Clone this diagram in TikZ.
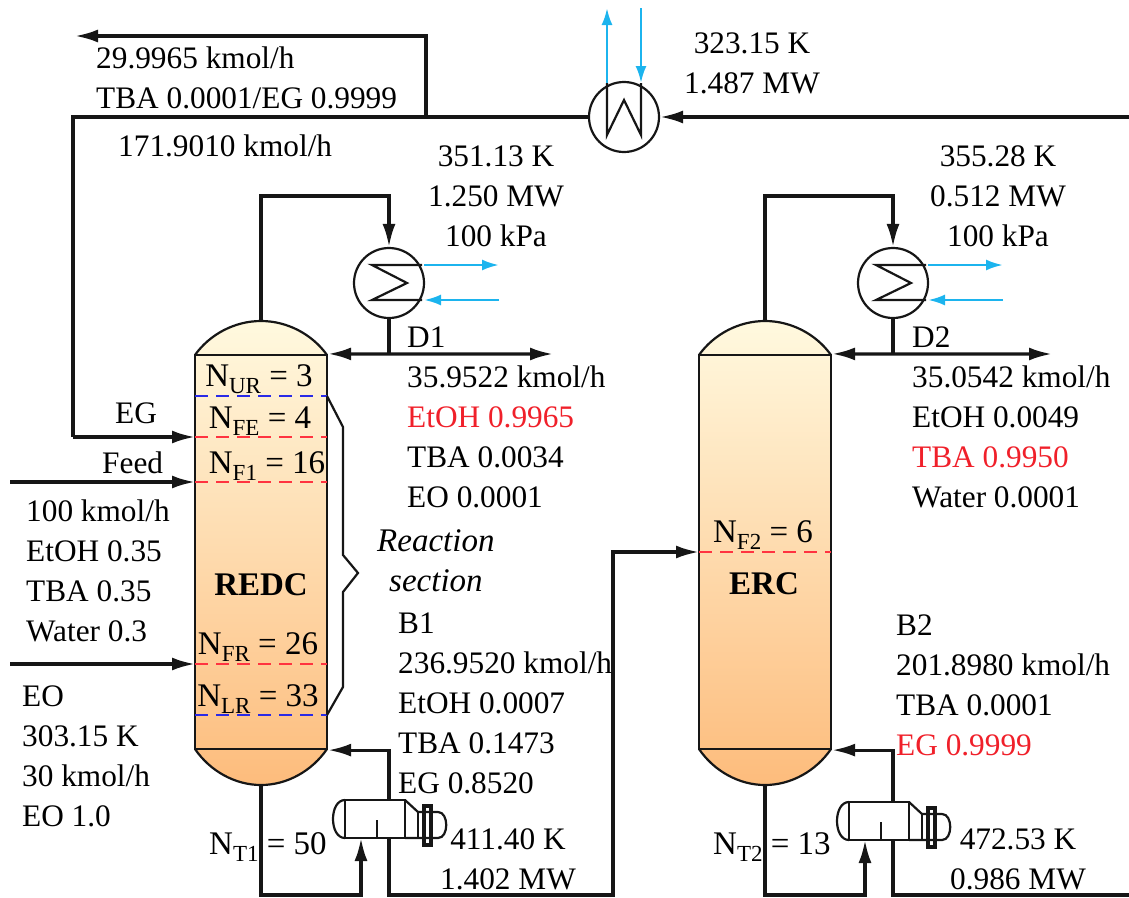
\documentclass[tikz,border=0pt]{standalone}
\usepackage{fontspec}
\setmainfont{Liberation Serif}
\usepackage{xcolor}
\usetikzlibrary{arrows.meta,positioning,calc}
\definecolor{ColTop}{HTML}{FFF9DF}
\definecolor{ColBot}{HTML}{FDBC7C}
\definecolor{CoolBlue}{HTML}{1CB4EE}
\definecolor{TrayRed}{HTML}{FF3340}
\definecolor{TrayBlue}{HTML}{2A2AE6}
\definecolor{SpecRed}{HTML}{F0202A}
\definecolor{PipeBlack}{HTML}{161616}
\newcommand{\Nsub}[1]{N\raisebox{-0.22em}{\fontsize{23}{23}\selectfont #1}}

\begin{document}
\begin{tikzpicture}[x=1pt,y=-1pt,>={Latex[length=23pt,width=13pt]},
    every node/.style={font=\fontsize{31.3}{40}\selectfont,inner sep=0pt},
    pipe/.style={draw=PipeBlack,line width=3.2pt},
    thinline/.style={draw=PipeBlack,line width=2.2pt},
    coolant/.style={draw=CoolBlue,line width=2.6pt,-{Latex[length=17pt,width=11pt]}},
    hx/.style={circle,draw=PipeBlack,line width=2.2pt,minimum size=70pt},
    colbody/.style={rectangle,draw=PipeBlack,line width=2.2pt,minimum width=132pt,minimum height=394pt},
    rebshell/.style={rectangle,draw=PipeBlack,line width=2.2pt,minimum width=60pt,minimum height=38pt},
    stage/.style={line width=2.2pt,dash pattern=on 13pt off 8pt},
    txt/.style={align=left,anchor=base west},
    ctxt/.style={align=center,anchor=base},
    biglab/.style={font=\fontsize{33}{40}\selectfont},
    boldlab/.style={font=\fontsize{33}{40}\selectfont\bfseries},
    itlab/.style={font=\fontsize{33}{40}\selectfont\itshape}]
    \useasboundingbox (0,0) rectangle (1129,897);

    % columns with condenser and reboiler
    \foreach \nm/\dx/\dy/\dend in {1/0/0/553,2/504/2/548} {
        \begin{scope}[xshift=\dx pt]
            \path[top color=ColTop,bottom color=ColBot]
                (195,355) .. controls (210,334) and (235,321) .. (261,321)
                .. controls (287,321) and (312,334) .. (327,355) -- (327,749)
                .. controls (312,771) and (287,785) .. (261,785)
                .. controls (235,785) and (210,771) .. (195,749) -- cycle;
            \draw[thinline]
                (195,355) .. controls (210,334) and (235,321) .. (261,321)
                .. controls (287,321) and (312,334) .. (327,355);
            \draw[thinline]
                (195,749) .. controls (210,771) and (235,785) .. (261,785)
                .. controls (287,785) and (312,771) .. (327,749);
            \node[colbody] (col\nm) at (261,552) {};
            \coordinate (top\nm) at (261,321);
            \coordinate (bot\nm) at (261,785);

            \node[hx] (cond\nm) at (389,283) {};
            \draw[thinline] (422,265) -- (372,265) -- (407,283) -- (372,300) -- (422,300);
            \coordinate (cwout\nm) at (499,265);
            \coordinate (cwin\nm) at (499,300);
            \coordinate (cwa\nm) at (424,265);
            \coordinate (cwb\nm) at (424,300);
            \draw[coolant] (cwa\nm) -- (cwout\nm);
            \draw[coolant] (cwin\nm) -- (cwb\nm);

            \draw[pipe,->] (top\nm) -- (261,196) -- (389,196) -- (cond\nm.north);
            \coordinate (dist\nm) at (389,354);
            \coordinate (dout\nm) at ({\dend},354);
            \draw[pipe] (cond\nm.south) -- (dist\nm);
            \draw[pipe,<->] (col\nm.north east) -- (dout\nm);

            \node[rebshell] (reb\nm) at (375,{819+\dy}) {};
            \begin{scope}[yshift=-\dy pt]
                \draw[thinline] (345,800) .. controls (329,800) and (329,838) .. (345,838);
                \draw[thinline] (405,800) -- (418,812) -- (438,812) .. controls (449,812) and (449,838) .. (438,838) -- (405,838);
                \draw[thinline] (418,812) -- (418,838);
                \draw[pipe] (424,806) rectangle (431,845);
                \draw[thinline] (377,820) -- (377,838);
                \coordinate (rtop\nm) at (389,800);
                \coordinate (rbot\nm) at (389,838);
                \coordinate (rin\nm) at (361,838);
            \end{scope}
            \draw[pipe,->] (rtop\nm) |- (col\nm.south east);
            \draw[pipe,->] (bot\nm) -- (261,895) -- (361,895) -- (rin\nm);
        \end{scope}
    }

    % stages
    \foreach \i/\x/\y/\c in {a/0/396/TrayBlue,b/0/437/TrayRed,c/0/482/TrayRed,d/0/664/TrayRed,e/0/715/TrayBlue,f/504/552/TrayRed} {
        \coordinate (sl\i) at ({195+\x},\y);
        \coordinate (sr\i) at ({327+\x},\y);
        \draw[\c,stage] (sl\i) -- (sr\i);
    }

    % streams between units
    \coordinate (egturn) at (73,437);
    \coordinate (feedin) at (10,482);
    \coordinate (eoin) at (10,664);
    \coordinate (bout) at (1129,895);
    \coordinate (recin) at (1129,117);
    \coordinate (purge) at (75,36);
    \coordinate (purgetap) at (426,117);
    \node[hx] (cond3) at (624,117) {};
    \draw[thinline] (607,83) -- (607,135) -- (624,100) -- (641,135) -- (641,83);
    \coordinate (cwa3) at (607,83);
    \coordinate (cwb3) at (641,83);
    \coordinate (cwc3) at (607,8);
    \coordinate (cwd3) at (641,8);
    \draw[coolant] (cwa3) -- (cwc3);
    \draw[coolant] (cwd3) -- (cwb3);
    \draw[pipe,->] (recin) -- (cond3.east);
    \draw[pipe] (cond3.west) -- (73,117) -- (egturn);
    \draw[pipe,->] (egturn) -- (slb);
    \draw[pipe,->] (purgetap) -- (426,36) -- (purge);
    \draw[pipe,->] (feedin) -- (slc);
    \draw[pipe,->] (eoin) -- (sld);
    \draw[pipe,->] (rbot1) -- (389,895) -- (613,895) -- (613,552) -- (slf);
    \draw[pipe] (rbot2) -- (893,895) -- (bout);

    % reaction section bracket
    \draw[thinline] (sra) -- (343,427) -- (343,555) -- (358,573) -- (343,592) -- (343,687) -- (sre);

    % column labels
    \node[ctxt,biglab] (nur) at (259,386) {\Nsub{UR} = 3};
    \node[ctxt,biglab] (nfe) at (260,428) {\Nsub{FE} = 4};
    \node[ctxt,biglab] (nfa) at (267,473) {\Nsub{F1} = 16};
    \node[ctxt,biglab] (nfr) at (258,654) {\Nsub{FR} = 26};
    \node[ctxt,biglab] (nlr) at (258,706) {\Nsub{LR} = 33};
    \node[ctxt,boldlab] (redc) at (261,595) {REDC};
    \node[ctxt,biglab] (nfb) at (763,542) {\Nsub{F2} = 6};
    \node[ctxt,boldlab] (erc) at (764,594) {ERC};
    \node[txt,biglab] (nta) at (209,854) {\Nsub{T1} = 50};
    \node[txt,biglab] (ntb) at (713,854) {\Nsub{T2} = 13};

    % stream labels
    \node[txt] (purgelab) at (96,108) {29.9965 kmol/h\\TBA 0.0001/EG 0.9999};
    \node[txt] (reclab) at (118,156) {171.9010 kmol/h};
    \node[ctxt] (condc) at (752,93) {323.15 K\\1.487 MW};
    \node[ctxt] (conda) at (496,246) {351.13 K\\1.250 MW\\100 kPa};
    \node[ctxt] (condb) at (998,246) {355.28 K\\0.512 MW\\100 kPa};
    \node[txt] (dalab) at (407,507) {D1\\35.9522 kmol/h\\\textcolor{SpecRed}{EtOH 0.9965}\\TBA 0.0034\\EO 0.0001};
    \node[txt] (dblab) at (912,507) {D2\\35.0542 kmol/h\\EtOH 0.0049\\\textcolor{SpecRed}{TBA 0.9950}\\Water 0.0001};
    \node[txt] (eglab) at (115,423) {EG};
    \node[txt] (feedlab) at (102,473) {Feed};
    \node[txt] (feedcomp) at (26,641) {100 kmol/h\\EtOH 0.35\\TBA 0.35\\Water 0.3};
    \node[txt] (eolab) at (22,826) {EO\\303.15 K\\30 kmol/h\\EO 1.0};
    \node[txt,itlab] (reactlab) at (377,591) {Reaction\\\hspace*{12pt}section};
    \node[txt] (balab) at (398,793) {B1\\236.9520 kmol/h\\EtOH 0.0007\\TBA 0.1473\\EG 0.8520};
    \node[txt] (bblab) at (896,755) {B2\\201.8980 kmol/h\\TBA 0.0001\\\textcolor{SpecRed}{EG 0.9999}};
    \node[ctxt] (reba) at (508,889) {411.40 K\\1.402 MW};
    \node[ctxt] (rebb) at (1018,889) {472.53 K\\0.986 MW};
\end{tikzpicture}
\end{document}
